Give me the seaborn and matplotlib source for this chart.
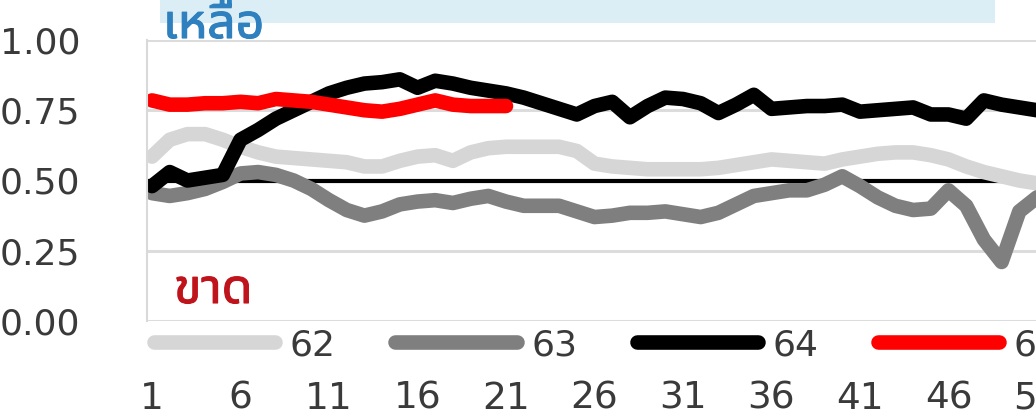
import numpy as np
import pandas as pd
import matplotlib
matplotlib.use("Agg")
import matplotlib.pyplot as plt
import matplotlib.patheffects as pe
import seaborn as sns
from matplotlib import font_manager
from matplotlib.ft2font import FT2Font
from matplotlib.patches import Rectangle
from matplotlib.lines import Line2D

# ---------------- data ----------------
weeks = list(range(1, 53))
series_names = ["62", "63", "64", "65"]
y62 = [0.585, 0.645, 0.665, 0.665, 0.645, 0.62, 0.60, 0.585, 0.58, 0.575,
       0.57, 0.565, 0.55, 0.55, 0.57, 0.585, 0.59, 0.57, 0.60, 0.615,
       0.62, 0.62, 0.62, 0.62, 0.605, 0.56, 0.55, 0.545, 0.54, 0.54,
       0.54, 0.54, 0.545, 0.555, 0.565, 0.575, 0.57, 0.565, 0.56, 0.575,
       0.585, 0.595, 0.60, 0.60, 0.59, 0.575, 0.55, 0.53, 0.515, 0.50,
       0.49, 0.48]
y63 = [0.455, 0.445, 0.455, 0.47, 0.495, 0.525, 0.53, 0.52, 0.50, 0.47,
       0.43, 0.395, 0.375, 0.39, 0.415, 0.425, 0.43, 0.42, 0.435, 0.445,
       0.425, 0.41, 0.41, 0.41, 0.39, 0.37, 0.375, 0.385, 0.385, 0.39,
       0.38, 0.37, 0.385, 0.415, 0.445, 0.455, 0.465, 0.465, 0.485, 0.515,
       0.48, 0.44, 0.41, 0.395, 0.40, 0.465, 0.41, 0.29, 0.21, 0.39,
       0.44, 0.46]
y64 = [0.48, 0.53, 0.50, 0.51, 0.52, 0.645, 0.68, 0.72, 0.75, 0.78,
       0.81, 0.83, 0.845, 0.85, 0.86, 0.83, 0.855, 0.845, 0.83, 0.82,
       0.81, 0.795, 0.775, 0.755, 0.735, 0.765, 0.78, 0.725, 0.765, 0.795,
       0.79, 0.775, 0.74, 0.77, 0.805, 0.755, 0.76, 0.765, 0.765, 0.77,
       0.745, 0.75, 0.755, 0.76, 0.735, 0.735, 0.72, 0.785, 0.77, 0.76,
       0.75, 0.75]
y65 = [0.785, 0.77, 0.77, 0.775, 0.775, 0.78, 0.775, 0.79, 0.785, 0.78,
       0.77, 0.76, 0.75, 0.745, 0.755, 0.77, 0.785, 0.77, 0.765, 0.765,
       0.765]
balance_line = 0.5
y_ticks = [0.0, 0.25, 0.50, 0.75, 1.00]
y_tick_labels = ["0.00", "0.25", "0.50", "0.75", "1.00"]
x_ticks = list(range(1, 53, 5))
label_surplus = "เหลือ"
label_shortage = "ขาด"

colors = {"62": "#D6D6D6", "63": "#7F7F7F", "64": "#000000", "65": "#FF0000"}

# ---------------- fonts ----------------
def find_thai_font():
    cands = []
    for f in font_manager.fontManager.ttflist:
        try:
            cmap = FT2Font(f.fname).get_charmap()
            if all(ord(c) in cmap for c in "เหลือขาด"):
                cands.append(f.name)
        except Exception:
            pass
    pref = ["Tahoma", "Leelawadee UI", "Leelawadee", "Noto Sans Thai UI",
            "Noto Sans Thai", "Noto Looped Thai", "Loma", "Garuda", "Waree",
            "Sarabun", "Kinnari", "Norasi"]
    for p in pref:
        if p in cands:
            return p
    return cands[0] if cands else None

sns.set_style("white")
plt.rcParams["font.family"] = ["DejaVu Sans"]
thai_font = find_thai_font()
thai_family = [thai_font, "DejaVu Sans"] if thai_font else ["DejaVu Sans"]

# ---------------- figure ----------------
W, H = 1036, 418
fig = plt.figure(figsize=(W / 100, H / 100), dpi=100)
ax_left = 147 / W
ax_bottom = (H - 321) / H
ax_top = (H - 40) / H
ax_right_px = 1080
ax = fig.add_axes([ax_left, ax_bottom, (ax_right_px - 147) / W, ax_top - ax_bottom])

px_per_week = 17.7
x_left = 1 - (152 - 147) / px_per_week
x_right = 1 + (ax_right_px - 152) / px_per_week
ax.set_xlim(x_left, x_right)
ax.set_ylim(0, 1)

# gridlines
for yv in y_ticks:
    ax.axhline(yv, color="#DCDCDC", lw=2.2, zorder=0)
ax.axhline(balance_line, color="#000000", lw=3.0, zorder=1)

series_values = {"62": y62, "63": y63, "64": y64, "65": y65}
lw = 10.5
for name in series_names:
    vals = series_values[name]
    df = pd.DataFrame({"week": weeks[:len(vals)], "value": vals})
    sns.lineplot(data=df, x="week", y="value", ax=ax, color=colors[name],
                 linewidth=lw, label=name, legend=False, zorder=2,
                 solid_capstyle="round", solid_joinstyle="round")

for s in ["top", "right", "bottom"]:
    ax.spines[s].set_visible(False)
ax.spines["left"].set_color("#D9D9D9")
ax.spines["left"].set_linewidth(1.5)

ax.set_xlabel("")
ax.set_ylabel("")
ax.set_xticks(x_ticks)
ax.set_xticklabels([str(t) for t in x_ticks])
ax.set_yticks(y_ticks)
ax.set_yticklabels(y_tick_labels)
ax.tick_params(axis="x", length=0, pad=43, labelsize=27, labelcolor="#3A3A3A")
ax.tick_params(axis="y", length=0, pad=48, labelsize=26, labelcolor="#3A3A3A")

# legend
handles = [Line2D([0], [0], color=colors[n], lw=lw, solid_capstyle="round")
           for n in series_names]
fig.legend(handles, series_names, loc="center left",
           bbox_to_anchor=(154 / W, (H - 345) / H), ncol=4, frameon=False,
           fontsize=26, handlelength=3.36, handletextpad=0.4,
           columnspacing=1.65, borderpad=0, borderaxespad=0,
           labelcolor="#3A3A3A")

# light blue title band (cut off at top)
fig.patches.append(Rectangle((160 / W, (H - 23) / H), (995 - 160) / W, 23 / H,
                             transform=fig.transFigure, facecolor="#DCEEF5",
                             edgecolor="none", zorder=0))

blue_txt = "#2F80BE"
red_txt = "#C0141C"
fig.text(163 / W, (H - 38) / H, label_surplus, color=blue_txt, fontsize=36,
         family=thai_family, ha="left", va="baseline", zorder=5,
         path_effects=[pe.withStroke(linewidth=0.8, foreground=blue_txt)])
fig.text(174 / W, (H - 303) / H, label_shortage, color=red_txt, fontsize=36,
         family=thai_family, ha="left", va="baseline", zorder=5,
         path_effects=[pe.withStroke(linewidth=0.8, foreground=red_txt)])

fig.savefig("out.png", dpi=100)
